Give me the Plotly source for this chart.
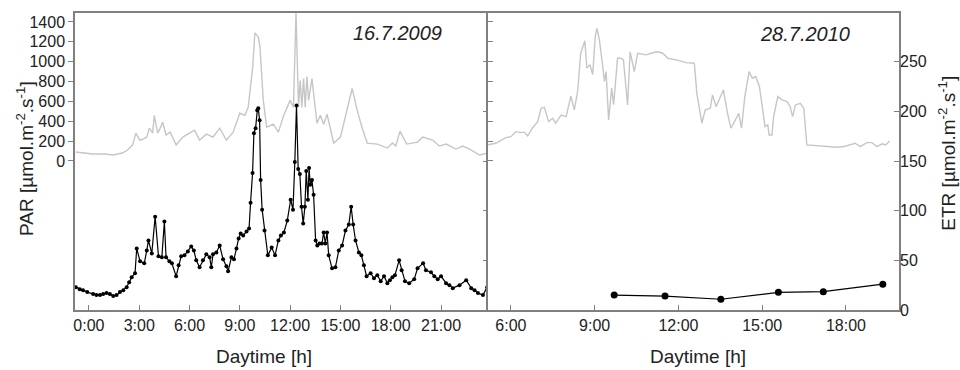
import plotly.graph_objects as go

# ---------------- data ----------------
# 16.7.2009 : PAR (grey line)
t_par_2009 = [-0.78, -0.3, 0.2, 0.66, 1.0, 1.43, 1.8, 2.0, 2.3, 2.6,
              2.8, 3.04, 3.25, 3.45, 3.6, 3.8, 3.9, 4.1, 4.25, 4.4,
              4.6, 4.85, 5.2, 5.6, 6.0, 6.3, 6.6, 7.0, 7.4, 7.8,
              8.2, 8.6, 9.0, 9.3, 9.5, 9.77, 9.9, 10.1, 10.2, 10.4,
              10.6, 11.0, 11.3, 11.6, 12.0, 12.2, 12.35, 12.5, 12.6, 12.7,
              12.8, 12.9, 13.0, 13.1, 13.3, 13.6, 13.8, 14.0, 14.2, 14.6,
              15.0, 15.4, 15.55, 15.7, 15.85, 16.0, 16.3, 16.6, 17.2, 17.8,
              18.1, 18.3, 18.55, 18.95, 19.6, 19.9, 20.5, 20.9, 21.3, 21.9,
              22.3, 22.7, 23.3, 23.8]
par_2009 = [90, 80, 70, 70, 70, 60, 70, 80, 110, 160,
            280, 210, 220, 240, 330, 280, 460, 280, 330, 390,
            260, 290, 160, 240, 280, 310, 210, 270, 240, 330,
            210, 290, 480, 460, 540, 950, 1290, 1250, 1150, 610,
            340, 370, 290, 450, 610, 540, 1500, 540, 810, 540,
            830, 540, 850, 610, 830, 380, 460, 370, 470, 180,
            240, 510, 600, 730, 620, 510, 330, 180, 170, 130,
            180, 150, 300, 170, 190, 240, 210, 150, 170, 120,
            150, 120, 60, 80]

# 16.7.2009 : ETR (black line with dots)
t_etr_2009 = [-0.78, -0.55, -0.35, -0.1, 0.25, 0.45, 0.66, 0.85, 1.05, 1.25,
              1.45, 1.65, 1.85, 2.05, 2.25, 2.4, 2.55, 2.75, 2.85, 3.05,
              3.3, 3.45, 3.55, 3.75, 3.95, 4.15, 4.35, 4.5, 4.6, 4.8,
              4.95, 5.2, 5.35, 5.5, 5.7, 5.9, 6.1, 6.26, 6.4, 6.6,
              6.8, 7.0, 7.2, 7.3, 7.4, 7.6, 7.8, 8.0, 8.2, 8.3,
              8.5, 8.65, 8.8, 8.93, 9.05, 9.2, 9.4, 9.55, 9.64, 9.76,
              9.84, 9.94, 10.04, 10.1, 10.18, 10.24, 10.33, 10.47, 10.67, 10.9,
              11.1, 11.3, 11.45, 11.63, 11.83, 12.03, 12.17, 12.28, 12.38, 12.48,
              12.58, 12.68, 12.78, 12.88, 12.96, 13.06, 13.13, 13.2, 13.3, 13.4,
              13.52, 13.62, 13.75, 13.9, 14.0, 14.1, 14.2, 14.3, 14.5, 14.7,
              14.9, 15.1, 15.3, 15.5, 15.64, 15.76, 15.9, 16.1, 16.25, 16.4,
              16.56, 16.8, 17.0, 17.2, 17.4, 17.6, 17.8, 17.95, 18.1, 18.25,
              18.5, 18.65, 18.85, 19.1, 19.4, 19.6, 19.93, 20.1, 20.4, 20.6,
              20.8, 21.0, 21.3, 21.5, 21.7, 22.1, 22.5, 22.8, 23.0, 23.2,
              23.5, 23.75]
etr_2009 = [23, 21, 20, 18, 16, 15, 15, 16, 17, 16,
            14, 15, 18, 20, 23, 28, 33, 37, 62, 49,
            47, 60, 70, 57, 94, 54, 53, 89, 53, 49,
            47, 34, 45, 54, 55, 59, 64, 60, 50, 43,
            50, 56, 53, 43, 56, 58, 65, 51, 44, 39,
            53, 51, 62, 72, 77, 75, 79, 82, 108, 138,
            178, 183, 201, 203, 191, 131, 101, 80, 55, 63,
            55, 70, 75, 78, 90, 111, 101, 149, 206, 142,
            137, 104, 87, 104, 140, 111, 143, 126, 131, 116,
            70, 65, 67, 67, 78, 67, 78, 55, 42, 43,
            60, 65, 80, 86, 104, 86, 70, 58, 55, 45,
            34, 37, 32, 35, 29, 34, 27, 30, 33, 35,
            50, 40, 29, 27, 31, 42, 47, 40, 38, 34,
            31, 34, 27, 25, 22, 25, 30, 22, 20, 17,
            15, 23]

# 28.7.2010 : PAR (grey line)
t_par_2010 = [5.15, 5.46, 5.82, 6.0, 6.18, 6.36, 6.48, 6.6, 6.78, 6.96,
              7.08, 7.2, 7.35, 7.5, 7.6, 7.8, 7.98, 8.15, 8.27, 8.39,
              8.5, 8.65, 8.72, 8.83, 8.93, 9.02, 9.08, 9.17, 9.29, 9.35,
              9.41, 9.5, 9.61, 9.68, 9.82, 9.94, 10.03, 10.18, 10.27, 10.42,
              10.54, 10.84, 11.08, 11.26, 11.44, 11.62, 11.92, 12.28, 12.57, 12.66,
              12.84, 12.96, 13.14, 13.22, 13.35, 13.5, 13.61, 13.76, 13.88, 14.04,
              14.16, 14.26, 14.38, 14.53, 14.65, 14.77, 14.9, 15.02, 15.1, 15.2,
              15.25, 15.35, 15.41, 15.56, 15.71, 15.89, 16.0, 16.09, 16.19, 16.37,
              16.49, 16.6, 17.2, 17.68, 17.92, 18.16, 18.33, 18.51, 18.75, 18.93,
              19.1, 19.3, 19.42, 19.56]
par_2010 = [161, 178, 235, 245, 295, 285, 290, 252, 335, 396,
            530, 540, 396, 430, 380, 463, 446, 655, 515, 700,
            1085, 1211, 935, 970, 870, 1252, 1336, 1220, 950, 800,
            900, 413, 735, 568, 1034, 1034, 1018, 564, 1100, 900,
            1085, 1068, 1090, 1100, 1085, 1034, 1018, 990, 984, 681,
            380, 514, 530, 665, 547, 648, 715, 480, 330, 413,
            480, 330, 648, 900, 833, 850, 750, 514, 346, 363,
            262, 262, 447, 648, 615, 598, 547, 447, 564, 580,
            530, 161, 145, 138, 145, 168, 178, 145, 185, 185,
            145, 172, 161, 201]

# 28.7.2010 : ETR (black line with dots)
t_etr_2010 = [9.70, 11.52, 13.52, 15.58, 17.19, 19.32]
etr_2010 = [15, 14, 10.8, 17.8, 18.4, 26]

# axis ticks
ticks_2009 = [0, 3, 6, 9, 12, 15, 18, 21]
ticklabels_2009 = ["0:00", "3:00", "6:00", "9:00", "12:00", "15:00", "18:00", "21:00"]
ticks_2010 = [6, 9, 12, 15, 18]
ticklabels_2010 = ["6:00", "9:00", "12:00", "15:00", "18:00"]
par_ticks = [0, 200, 400, 600, 800, 1000, 1200, 1400]
etr_ticks = [0, 50, 100, 150, 200, 250]

assert len(t_par_2009) == len(par_2009)
assert len(t_etr_2009) == len(etr_2009)
assert len(t_par_2010) == len(par_2010)

# ---------------- figure ----------------
FONT = "Liberation Sans, Arial, sans-serif"
GREY_LINE = "#c6c6c6"
AXIS_COL = "#808080"
TXT = "#222222"
SPLIT = 0.5012
PAR_RANGE = [-1501, 1490]
ETR_RANGE = [0, 299]

fig = go.Figure()
fig.add_trace(go.Scatter(x=t_par_2009, y=par_2009, mode="lines",
                         line=dict(color=GREY_LINE, width=1.4),
                         xaxis="x", yaxis="y", showlegend=False, hoverinfo="skip"))
fig.add_trace(go.Scatter(x=t_etr_2009, y=etr_2009, mode="lines+markers",
                         line=dict(color="black", width=1.2),
                         marker=dict(size=4, color="black"),
                         xaxis="x", yaxis="y2", showlegend=False))
fig.add_trace(go.Scatter(x=t_par_2010, y=par_2010, mode="lines",
                         line=dict(color=GREY_LINE, width=1.4),
                         xaxis="x2", yaxis="y3", showlegend=False, hoverinfo="skip"))
fig.add_trace(go.Scatter(x=t_etr_2010, y=etr_2010, mode="lines+markers",
                         line=dict(color="black", width=1.2),
                         marker=dict(size=7, color="black"),
                         xaxis="x2", yaxis="y4", showlegend=False))

common = dict(showgrid=False, zeroline=False, linecolor=AXIS_COL,
              linewidth=1.5, tickcolor=AXIS_COL, tickwidth=1.2, ticklen=5,
              tickfont=dict(family=FONT, size=16, color=TXT))

fig.update_layout(
    width=960, height=370,
    margin=dict(l=75, r=61, t=13, b=60),
    paper_bgcolor="white", plot_bgcolor="white",
    font=dict(family=FONT, color=TXT),
    xaxis=dict(domain=[0, SPLIT], range=[-0.83, 23.8], anchor="y",
               tickmode="array", tickvals=ticks_2009, ticktext=ticklabels_2009,
               ticks="inside", showline=True, mirror=True, **common),
    yaxis=dict(range=PAR_RANGE, anchor="x", tickmode="array", tickvals=par_ticks,
               ticks="outside", showline=True, mirror=False, **common),
    yaxis2=dict(range=ETR_RANGE, overlaying="y", side="right", anchor="x",
                tickmode="array", tickvals=etr_ticks, ticks="inside",
                showticklabels=False, showline=False, **common),
    xaxis2=dict(domain=[SPLIT, 1], range=[5.18, 19.9], anchor="y3",
                tickmode="array", tickvals=ticks_2010, ticktext=ticklabels_2010,
                ticks="inside", showline=True, mirror=True, **common),
    yaxis3=dict(range=PAR_RANGE, anchor="x2", side="left", tickmode="array",
                tickvals=par_ticks, ticks="inside", showticklabels=False,
                showline=True, mirror=True, **common),
    yaxis4=dict(range=ETR_RANGE, overlaying="y3", side="right", anchor="x2",
                tickmode="array", tickvals=etr_ticks, ticks="inside",
                showline=False, **common),
)

ann = [
    dict(text="<i>16.7.2009</i>", x=0.391, y=0.933, size=20, angle=0),
    dict(text="<i>28.7.2010</i>", x=0.886, y=0.930, size=20, angle=0),
    dict(text="Daytime [h]", x=0.229, y=-0.158, size=19, angle=0),
    dict(text="Daytime [h]", x=0.756, y=-0.158, size=19, angle=0),
    dict(text="PAR [µmol.m<sup>-2</sup>.s<sup>-1</sup>]", x=-0.0607, y=0.512,
         size=19, angle=-90),
    dict(text="ETR [µmol.m<sup>-2</sup>.s<sup>-1</sup>]", x=1.058, y=0.529,
         size=19, angle=-90),
]
for a in ann:
    fig.add_annotation(xref="paper", yref="paper", showarrow=False,
                       xanchor="center", yanchor="middle",
                       text=a["text"], x=a["x"], y=a["y"],
                       textangle=a["angle"],
                       font=dict(family=FONT, color=TXT, size=a["size"]))

fig.write_html("out.html",
               config={"displayModeBar": False},
               post_script="document.body.style.margin='0';document.body.style.overflow='hidden';")
